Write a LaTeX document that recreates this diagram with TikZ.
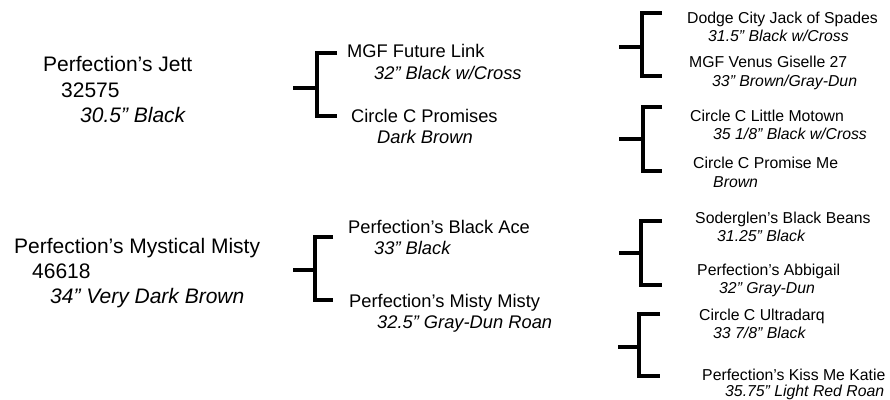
\documentclass[tikz,border=0pt]{standalone}
\usepackage{fontspec}
\setmainfont{Liberation Sans}
\tikzset{
  gone/.style={anchor=base west, inner sep=0pt, font=\fontsize{21}{25}\selectfont},
  gtwo/.style={anchor=base west, inner sep=0pt, font=\fontsize{18.3}{22}\selectfont},
  gthree/.style={anchor=base west, inner sep=0pt, font=\fontsize{15.8}{18}\selectfont},
  gonei/.style={gone, font=\fontsize{21}{25}\selectfont\itshape},
  gtwoi/.style={gtwo, font=\fontsize{18.3}{22}\selectfont\itshape},
  gthreei/.style={gthree, font=\fontsize{15.8}{18}\selectfont\itshape},
  br/.style={line width=3.6pt, line cap=butt, line join=miter},
}
\newcommand{\bracketat}[7]{% name, xs, xv, xa, yt, ym, yb
  \coordinate (#1s) at (#2,#6);
  \coordinate (#1m) at (#3,#6);
  \coordinate (#1tv) at (#3,#5);
  \coordinate (#1ta) at (#4,#5);
  \coordinate (#1bv) at (#3,#7);
  \coordinate (#1ba) at (#4,#7);
  \draw[br] (#1ta) -- (#1tv) -- (#1bv) -- (#1ba);
  \draw[br] (#1s) -- (#1m);
}
\begin{document}
\begin{tikzpicture}[x=1pt,y=-1pt]
\useasboundingbox (0,0) rectangle (890,399);
% generation 1
\node[gone] (s1) at (43,71) {Perfection’s Jett};
\node[gone] (s1n) at (61,97) {32575};
\node[gonei] (s1c) at (80,122) {30.5” Black};
\node[gone] (d1) at (14,253) {Perfection’s Mystical Misty};
\node[gone] (d1n) at (32,278) {46618};
\node[gonei] (d1c) at (50,303) {34” Very Dark Brown};
% generation 2
\node[gtwo] (ss) at (347,57) {MGF Future Link};
\node[gtwoi] (ssc) at (374,79) {32” Black w/Cross};
\node[gtwo] (sd) at (351,122) {Circle C Promises};
\node[gtwoi] (sdc) at (377,143) {Dark Brown};
\node[gtwo] (ds) at (348,233) {Perfection’s Black Ace};
\node[gtwoi] (dsc) at (374,254) {33” Black};
\node[gtwo] (dd) at (349,307) {Perfection’s Misty Misty};
\node[gtwoi] (ddc) at (377,328) {32.5” Gray-Dun Roan};
% generation 3
\node[gthree] (sss) at (687,23) {Dodge City Jack of Spades};
\node[gthreei] (sssc) at (708,41) {31.5” Black w/Cross};
\node[gthree] (ssd) at (689,67) {MGF Venus Giselle 27};
\node[gthreei] (ssdc) at (712,86) {33” Brown/Gray-Dun};
\node[gthree] (sds) at (690,121) {Circle C Little Motown};
\node[gthreei] (sdsc) at (713,139) {35 1/8” Black w/Cross};
\node[gthree] (sdd) at (693,168) {Circle C Promise Me};
\node[gthreei] (sddc) at (713,187) {Brown};
\node[gthree] (dss) at (695,223) {Soderglen’s Black Beans};
\node[gthreei] (dssc) at (717,241) {31.25” Black};
\node[gthree] (dsd) at (697,275) {Perfection’s Abbigail};
\node[gthreei] (dsdc) at (719,293) {32” Gray-Dun};
\node[gthree] (dds) at (699,320) {Circle C Ultradarq};
\node[gthreei] (ddsc) at (713,338) {33 7/8” Black};
\node[gthree] (ddd) at (702,380) {Perfection’s Kiss Me Katie};
\node[gthreei] (dddc) at (725,396) {35.75” Light Red Roan};
% brackets
\bracketat{ba}{293}{317}{337}{53}{88}{116}
\bracketat{bb}{293}{315}{333}{237}{270}{300}
\bracketat{bc}{619}{642}{662}{13}{47}{76}
\bracketat{bd}{619}{643}{662}{107}{139}{171}
\bracketat{be}{619}{641}{662}{221}{253}{285}
\bracketat{bf}{618}{639}{660}{314}{347}{376}
\end{tikzpicture}
\end{document}
